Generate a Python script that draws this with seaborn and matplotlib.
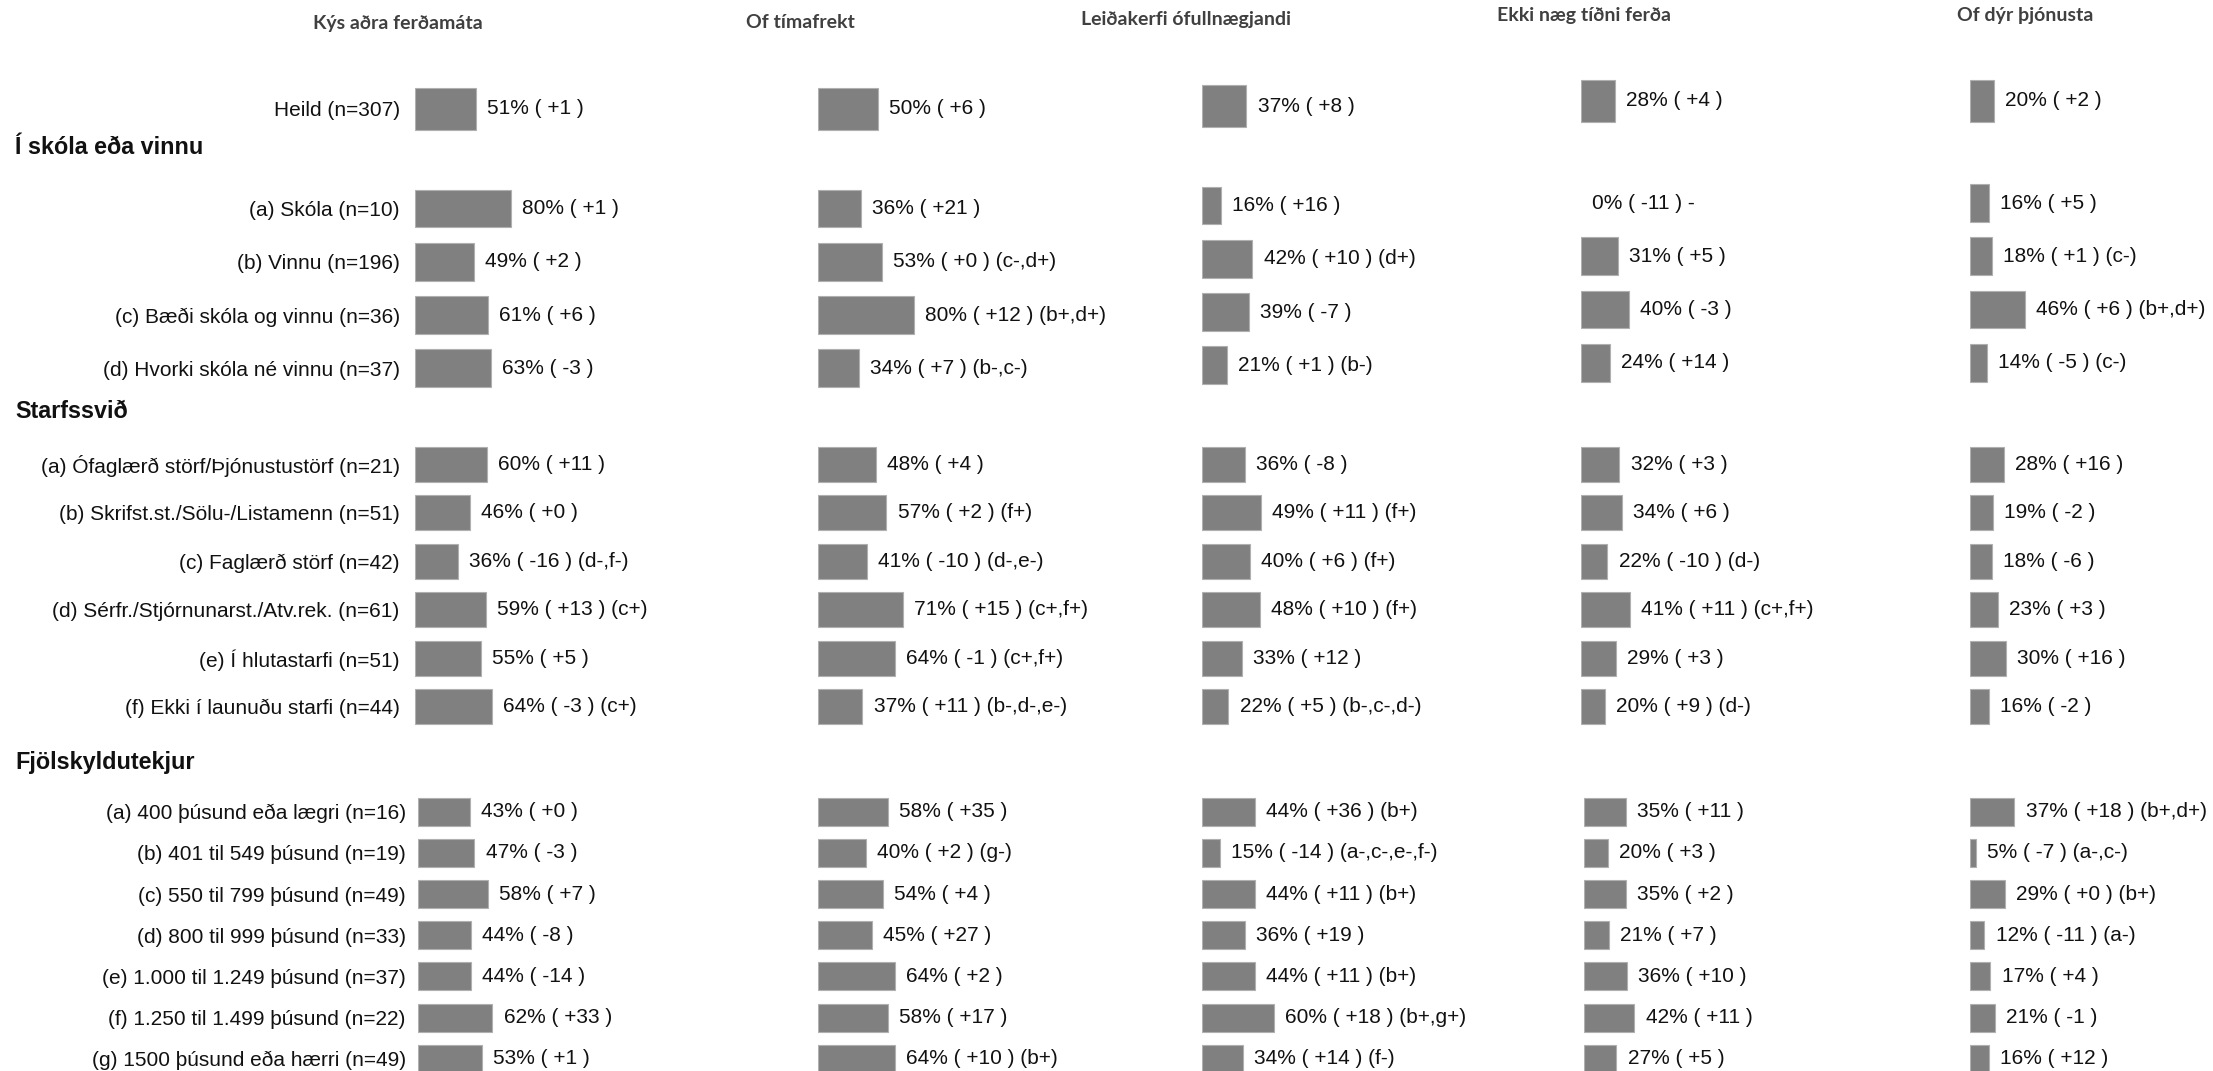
import matplotlib
matplotlib.use('Agg')
import matplotlib.pyplot as plt
import seaborn as sns
import pandas as pd
from matplotlib import font_manager

sns.set_theme(style='white')

installed = {f.name for f in font_manager.fontManager.ttflist}
narrow = 'Liberation Sans Narrow' in installed
body_font = 'Liberation Sans Narrow' if narrow else 'Liberation Sans'
plt.rcParams['font.family'] = [body_font, 'DejaVu Sans']

# ---- data ----
columns = ["Kýs aðra ferðamáta", "Of tímafrekt", "Leiðakerfi ófullnægjandi",
           "Ekki næg tíðni ferða", "Of dýr þjónusta"]

section_titles = [None, "Í skóla eða vinnu", "Starfssvið", "Fjölskyldutekjur"]
heild_rows = ["Heild (n=307)"]
skoli_rows = ["(a) Skóla (n=10)", "(b) Vinnu (n=196)",
              "(c) Bæði skóla og vinnu (n=36)", "(d) Hvorki skóla né vinnu (n=37)"]
starf_rows = ["(a) Ófaglærð störf/Þjónustustörf (n=21)",
              "(b) Skrifst.st./Sölu-/Listamenn (n=51)",
              "(c) Faglærð störf (n=42)",
              "(d) Sérfr./Stjórnunarst./Atv.rek. (n=61)",
              "(e) Í hlutastarfi (n=51)",
              "(f) Ekki í launuðu starfi (n=44)"]
tekjur_rows = ["(a) 400 þúsund eða lægri (n=16)", "(b) 401 til 549 þúsund (n=19)",
               "(c) 550 til 799 þúsund (n=49)", "(d) 800 til 999 þúsund (n=33)",
               "(e) 1.000 til 1.249 þúsund (n=37)", "(f) 1.250 til 1.499 þúsund (n=22)",
               "(g) 1500 þúsund eða hærri (n=49)"]
section_rows = [heild_rows, skoli_rows, starf_rows, tekjur_rows]

# percent, change vs. previous, significance notes (rows in order above)
kys_pct = [51, 80, 49, 61, 63, 60, 46, 36, 59, 55, 64, 43, 47, 58, 44, 44, 62, 53]
kys_chg = ["+1", "+1", "+2", "+6", "-3", "+11", "+0", "-16", "+13", "+5", "-3",
           "+0", "-3", "+7", "-8", "-14", "+33", "+1"]
kys_sig = ["", "", "", "", "", "", "", "(d-,f-)", "(c+)", "", "(c+)",
           "", "", "", "", "", "", ""]

tima_pct = [50, 36, 53, 80, 34, 48, 57, 41, 71, 64, 37, 58, 40, 54, 45, 64, 58, 64]
tima_chg = ["+6", "+21", "+0", "+12", "+7", "+4", "+2", "-10", "+15", "-1", "+11",
            "+35", "+2", "+4", "+27", "+2", "+17", "+10"]
tima_sig = ["", "", "(c-,d+)", "(b+,d+)", "(b-,c-)", "", "(f+)", "(d-,e-)", "(c+,f+)",
            "(c+,f+)", "(b-,d-,e-)", "", "(g-)", "", "", "", "", "(b+)"]

leid_pct = [37, 16, 42, 39, 21, 36, 49, 40, 48, 33, 22, 44, 15, 44, 36, 44, 60, 34]
leid_chg = ["+8", "+16", "+10", "-7", "+1", "-8", "+11", "+6", "+10", "+12", "+5",
            "+36", "-14", "+11", "+19", "+11", "+18", "+14"]
leid_sig = ["", "", "(d+)", "", "(b-)", "", "(f+)", "(f+)", "(f+)", "", "(b-,c-,d-)",
            "(b+)", "(a-,c-,e-,f-)", "(b+)", "", "(b+)", "(b+,g+)", "(f-)"]

tidni_pct = [28, 0, 31, 40, 24, 32, 34, 22, 41, 29, 20, 35, 20, 35, 21, 36, 42, 27]
tidni_chg = ["+4", "-11", "+5", "-3", "+14", "+3", "+6", "-10", "+11", "+3", "+9",
             "+11", "+3", "+2", "+7", "+10", "+11", "+5"]
tidni_sig = ["", "-", "", "", "", "", "", "(d-)", "(c+,f+)", "", "(d-)",
             "", "", "", "", "", "", ""]

dyr_pct = [20, 16, 18, 46, 14, 28, 19, 18, 23, 30, 16, 37, 5, 29, 12, 17, 21, 16]
dyr_chg = ["+2", "+5", "+1", "+6", "-5", "+16", "-2", "-6", "+3", "+16", "-2",
           "+18", "-7", "+0", "-11", "+4", "-1", "+12"]
dyr_sig = ["", "", "(c-)", "(b+,d+)", "(c-)", "", "", "", "", "", "",
           "(b+,d+)", "(a-,c-)", "(b+)", "(a-)", "", "", ""]

pcts = [kys_pct, tima_pct, leid_pct, tidni_pct, dyr_pct]
chgs = [kys_chg, tima_chg, leid_chg, tidni_chg, dyr_chg]
sigs = [kys_sig, tima_sig, leid_sig, tidni_sig, dyr_sig]

# ---- layout (pixels of the 2213x1071 canvas) ----
W, H = 2213, 1071
col_x = [415, 818, 1202, 1581, 1970]
col_w = 360
px_per_pct = 1.2
sec_top = [79, 182, 440, 791]
sec_row = [60, 53.2, 48.5, 41.2]
bar_frac = [0.7, 0.71, 0.72, 0.68]
# small per-column nudges, the source panels are not perfectly aligned
sec_dy = [[0, 0, -3, -8, -8], [0, 0, -3, -5.5, -5.5], [0] * 5, [0] * 5]
sec_dx = [[0] * 5, [0] * 5, [0] * 5, [3, 0, 0, 3, 0]]
header_y = [None, 147, 412, 762]
title_x = [398, 800, 1186, 1584, 2025]
title_y = [23, 23, 20, 15.5, 15.5]

fs = 19 if narrow else 15
bar_color = '#808080'

fig = plt.figure(figsize=(W / 100, H / 100), dpi=100)

start = 0
for s, rows in enumerate(section_rows):
    n = len(rows)
    h = n * sec_row[s]
    for c in range(len(columns)):
        x0 = col_x[c] + sec_dx[s][c]
        y0 = sec_top[s] + sec_dy[s][c]
        ax = fig.add_axes([x0 / W, 1 - (y0 + h) / H, col_w / W, h / H])
        sub = pd.DataFrame({'row': rows, 'pct': pcts[c][start:start + n]})
        sns.barplot(data=sub, x='pct', y='row', orient='h', color=bar_color,
                    saturation=1, width=bar_frac[s], edgecolor='#b0b0b0',
                    linewidth=0.8, ax=ax)
        labels = []
        for i in range(start, start + n):
            txt = f"{pcts[c][i]}% ( {chgs[c][i]} )"
            if sigs[c][i]:
                txt += " " + sigs[c][i]
            labels.append(txt)
        cont = ax.containers[0]
        for p in cont:
            if p.get_width() == 0:
                p.set_visible(False)
        ax.bar_label(cont, labels=labels, padding=8, fontsize=fs, color='#111111')
        ax.set_xlim(0, col_w / px_per_pct)
        ax.set_xlabel('')
        ax.set_ylabel('')
        ax.set_xticks([])
        for sp in ax.spines.values():
            sp.set_visible(False)
        if c == 0:
            ax.tick_params(axis='y', length=0, pad=11 - sec_dx[s][c] * 0.72,
                           labelsize=fs, labelcolor='#111111')
        else:
            ax.set_yticklabels([])
            ax.tick_params(axis='y', length=0)
        ax.patch.set_alpha(0)
    if section_titles[s]:
        fig.text(15 / W, 1 - header_y[s] / H, section_titles[s], fontsize=fs * 1.12,
                 fontweight='bold', va='center', ha='left', color='#111111')
    start += n

for c, name in enumerate(columns):
    fig.text(title_x[c] / W, 1 - title_y[c] / H, name, fontsize=14,
             fontweight='bold', family=['Lato', 'DejaVu Sans'], color='#404040',
             ha='center', va='center')

fig.savefig('out.png', dpi=100, facecolor='white')
